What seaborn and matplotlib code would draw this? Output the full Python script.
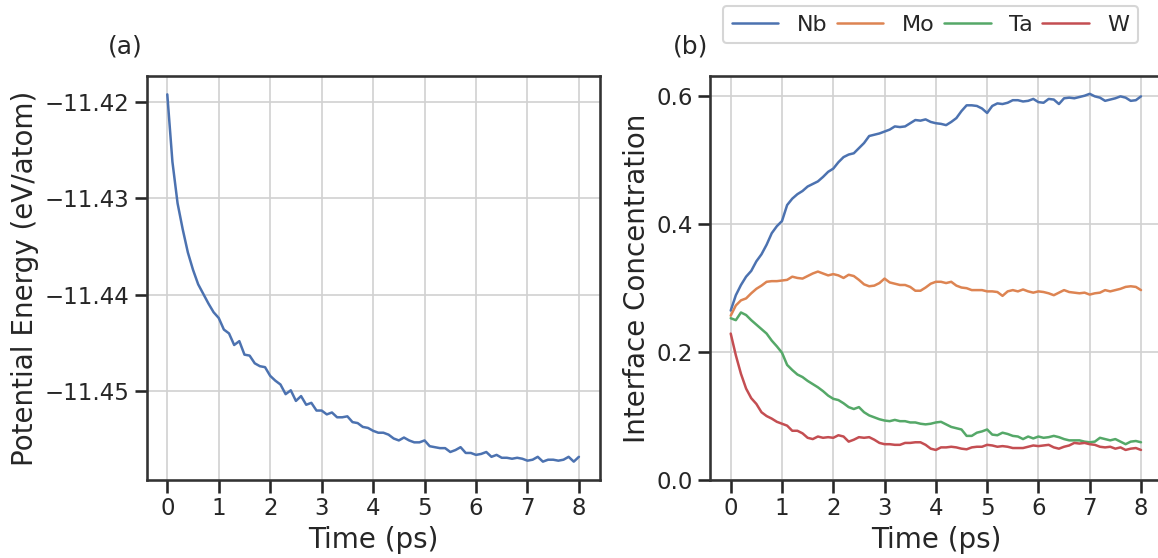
import numpy as np
import pandas as pd
import matplotlib
matplotlib.use("Agg")
import matplotlib.pyplot as plt
import seaborn as sns

# ---------------- data ----------------
time_ps = [round(0.1 * i, 1) for i in range(81)]

energy = [
    -11.4192, -11.4262, -11.4305, -11.4332, -11.4356, -11.4374, -11.4389, -11.4399, -11.4409, -11.4418,
    -11.4424, -11.4436, -11.4440, -11.4452, -11.4448, -11.4462, -11.4463, -11.4471, -11.4474, -11.4475,
    -11.4484, -11.4489, -11.4493, -11.4503, -11.4499, -11.4510, -11.4505, -11.4514, -11.4512, -11.4520,
    -11.4520, -11.4524, -11.4522, -11.4527, -11.4527, -11.4526, -11.4532, -11.4533, -11.4537, -11.4538,
    -11.4541, -11.4543, -11.4543, -11.4545, -11.4549, -11.4551, -11.4548, -11.4551, -11.4553, -11.4553,
    -11.4551, -11.4557, -11.4558, -11.4559, -11.4559, -11.4563, -11.4561, -11.4558, -11.4564, -11.4564,
    -11.4566, -11.4565, -11.4563, -11.4568, -11.4566, -11.4569, -11.4569, -11.4570, -11.4569, -11.4570,
    -11.4572, -11.4571, -11.4568, -11.4573, -11.4571, -11.4571, -11.4572, -11.4571, -11.4568, -11.4573,
    -11.4568,
]

nb = [
    0.265, 0.289, 0.305, 0.318, 0.327, 0.342, 0.353, 0.368, 0.386, 0.397,
    0.405, 0.430, 0.440, 0.447, 0.452, 0.459, 0.463, 0.467, 0.474, 0.482,
    0.487, 0.497, 0.505, 0.509, 0.511, 0.519, 0.527, 0.538, 0.540, 0.542,
    0.545, 0.548, 0.553, 0.552, 0.553, 0.558, 0.563, 0.562, 0.564, 0.560,
    0.558, 0.557, 0.555, 0.560, 0.566, 0.577, 0.586, 0.586, 0.585, 0.581,
    0.574, 0.585, 0.589, 0.588, 0.590, 0.594, 0.594, 0.592, 0.593, 0.596,
    0.591, 0.590, 0.596, 0.595, 0.588, 0.597, 0.598, 0.597, 0.599, 0.601,
    0.604, 0.600, 0.598, 0.593, 0.595, 0.597, 0.600, 0.598, 0.593, 0.594,
    0.600,
]

mo = [
    0.257, 0.273, 0.281, 0.284, 0.292, 0.299, 0.304, 0.310, 0.311, 0.311,
    0.312, 0.313, 0.318, 0.316, 0.315, 0.319, 0.323, 0.326, 0.323, 0.320,
    0.322, 0.320, 0.316, 0.321, 0.319, 0.313, 0.306, 0.303, 0.304, 0.308,
    0.315, 0.309, 0.307, 0.305, 0.305, 0.302, 0.296, 0.296, 0.301, 0.307,
    0.310, 0.310, 0.308, 0.310, 0.304, 0.301, 0.300, 0.297, 0.297, 0.297,
    0.295, 0.295, 0.294, 0.288, 0.295, 0.297, 0.295, 0.298, 0.295, 0.293,
    0.295, 0.294, 0.292, 0.289, 0.293, 0.297, 0.294, 0.293, 0.292, 0.293,
    0.290, 0.292, 0.293, 0.297, 0.295, 0.297, 0.299, 0.302, 0.303, 0.302,
    0.297,
]

ta = [
    0.253, 0.250, 0.262, 0.258, 0.250, 0.243, 0.236, 0.229, 0.218, 0.209,
    0.199, 0.180, 0.172, 0.165, 0.161, 0.155, 0.150, 0.145, 0.139, 0.132,
    0.127, 0.125, 0.120, 0.114, 0.111, 0.114, 0.106, 0.101, 0.098, 0.095,
    0.093, 0.092, 0.094, 0.092, 0.092, 0.090, 0.090, 0.088, 0.087, 0.088,
    0.090, 0.091, 0.087, 0.083, 0.081, 0.079, 0.069, 0.069, 0.074, 0.076,
    0.079, 0.071, 0.070, 0.074, 0.072, 0.069, 0.068, 0.064, 0.068, 0.065,
    0.068, 0.066, 0.067, 0.069, 0.067, 0.064, 0.062, 0.062, 0.062, 0.060,
    0.059, 0.060, 0.066, 0.064, 0.062, 0.064, 0.060, 0.056, 0.060, 0.061,
    0.059,
]

w = [
    0.229, 0.195, 0.166, 0.143, 0.128, 0.119, 0.106, 0.100, 0.096, 0.091,
    0.088, 0.085, 0.077, 0.077, 0.073, 0.066, 0.064, 0.068, 0.066, 0.067,
    0.066, 0.070, 0.068, 0.060, 0.063, 0.067, 0.066, 0.067, 0.063, 0.058,
    0.056, 0.056, 0.055, 0.055, 0.058, 0.058, 0.059, 0.059, 0.055, 0.049,
    0.047, 0.051, 0.051, 0.052, 0.051, 0.049, 0.048, 0.051, 0.052, 0.052,
    0.055, 0.054, 0.052, 0.053, 0.052, 0.050, 0.050, 0.050, 0.052, 0.054,
    0.053, 0.054, 0.055, 0.051, 0.049, 0.052, 0.054, 0.058, 0.057, 0.058,
    0.056, 0.055, 0.052, 0.051, 0.052, 0.049, 0.051, 0.047, 0.049, 0.050,
    0.047,
]

elements = ["Nb", "Mo", "Ta", "W"]
x_ticks = [0, 1, 2, 3, 4, 5, 6, 7, 8]
energy_ticks = [-11.42, -11.43, -11.44, -11.45]
conc_ticks = [0.0, 0.2, 0.4, 0.6]

# ---------------- style ----------------
sns.set_theme(context="talk", style="ticks", palette="deep",
              rc={"axes.grid": True})
plt.rcParams["font.family"] = ["DejaVu Sans"]
plt.rcParams["axes.labelsize"] = 20

W_PX, H_PX = 1158, 558
fig = plt.figure(figsize=(W_PX / 100, H_PX / 100), dpi=100)

def rect(x0, x1, y0, y1):
    return [x0 / W_PX, 1 - y1 / H_PX, (x1 - x0) / W_PX, (y1 - y0) / H_PX]

ax1 = fig.add_axes(rect(146.7, 599.5, 76, 480))
ax2 = fig.add_axes(rect(710.2, 1161.5, 76, 480))

# ---------------- panel (a) ----------------
df_e = pd.DataFrame({"Time (ps)": time_ps, "Energy": energy})
sns.lineplot(data=df_e, x="Time (ps)", y="Energy", ax=ax1,
             color=sns.color_palette("deep")[0], linewidth=1.8)
ax1.set_xticks(x_ticks)
ax1.set_yticks(energy_ticks)
ax1.set_xlabel("Time (ps)", fontsize=20)
ax1.set_ylabel("Potential Energy (eV/atom)", fontsize=20)
ax1.text(-0.01, 1.072, "(a)", transform=ax1.transAxes, ha="right",
         va="center", fontsize=18)

# ---------------- panel (b) ----------------
df_c = pd.DataFrame({
    "Time (ps)": time_ps * 4,
    "Concentration": nb + mo + ta + w,
    "Element": sum([[e] * len(time_ps) for e in elements], []),
})
sns.lineplot(data=df_c, x="Time (ps)", y="Concentration", hue="Element",
             hue_order=elements, palette="deep", ax=ax2, linewidth=1.8)
ax2.set_ylim(bottom=0)
ax2.set_xticks(x_ticks)
ax2.set_yticks(conc_ticks)
ax2.set_xlabel("Time (ps)", fontsize=20)
ax2.set_ylabel("Interface Concentration", fontsize=20)
ax2.text(-0.005, 1.072, "(b)", transform=ax2.transAxes, ha="right",
         va="center", fontsize=18)

handles, labels = ax2.get_legend_handles_labels()
if ax2.get_legend() is not None:
    ax2.get_legend().remove()
fig.legend(handles, labels, loc="upper left", ncol=4,
           bbox_to_anchor=(722.7 / W_PX, 1 - 5.7 / H_PX),
           borderaxespad=0, columnspacing=0.4, handlelength=2.1,
           handletextpad=0.85, fontsize=16)

for ax in (ax1, ax2):
    ax.grid(True, color="0.82", linewidth=1.2)
    for s in ax.spines.values():
        s.set_color("0.2")

fig.savefig("out.png", dpi=100)
